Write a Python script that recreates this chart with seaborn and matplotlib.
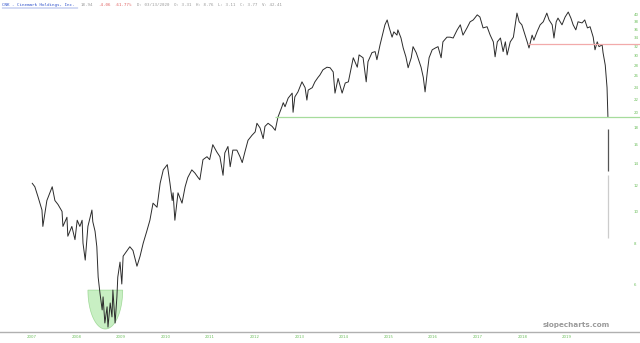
import numpy as np
import pandas as pd
import matplotlib
matplotlib.use("Agg")
import matplotlib.pyplot as plt
import seaborn as sns

# ---- data ----
years = [
    2007.01, 2007.07, 2007.14, 2007.23, 2007.25, 2007.34, 2007.46, 2007.52, 2007.59, 2007.68,
    2007.70, 2007.79, 2007.81, 2007.90, 2007.97, 2008.02, 2008.08, 2008.13, 2008.15, 2008.20,
    2008.26, 2008.35, 2008.37, 2008.42, 2008.46, 2008.49, 2008.53, 2008.58, 2008.60, 2008.64,
    2008.69, 2008.71, 2008.76, 2008.80, 2008.82, 2008.87, 2008.91, 2008.93, 2008.98, 2009.02,
    2009.05, 2009.14, 2009.20, 2009.27, 2009.36, 2009.43, 2009.50, 2009.58, 2009.65, 2009.72,
    2009.81, 2009.88, 2009.95, 2010.04, 2010.10, 2010.15, 2010.17, 2010.21,
    2010.28, 2010.37, 2010.44, 2010.50, 2010.59, 2010.66, 2010.73, 2010.77, 2010.84, 2010.93,
    2010.99, 2011.06, 2011.15, 2011.22, 2011.29, 2011.33, 2011.40, 2011.45, 2011.51, 2011.60,
    2011.67, 2011.72, 2011.78, 2011.85, 2011.94, 2012.01, 2012.05, 2012.12, 2012.19, 2012.23,
    2012.30, 2012.39, 2012.46, 2012.52, 2012.61, 2012.64, 2012.68, 2012.75, 2012.84, 2012.86,
    2012.90, 2012.97, 2013.06, 2013.13, 2013.17, 2013.20, 2013.29, 2013.35, 2013.42,
    2013.46, 2013.53, 2013.62, 2013.69, 2013.76, 2013.80, 2013.87, 2013.96, 2014.03, 2014.10,
    2014.14, 2014.21, 2014.30, 2014.34, 2014.43, 2014.50, 2014.54, 2014.63, 2014.70, 2014.74,
    2014.81, 2014.88, 2014.92, 2014.97, 2015.01, 2015.08, 2015.12, 2015.19, 2015.21, 2015.28,
    2015.33, 2015.39, 2015.44, 2015.51, 2015.55, 2015.62, 2015.66, 2015.73, 2015.78, 2015.82,
    2015.87, 2015.91, 2015.98, 2016.05, 2016.11, 2016.18, 2016.22, 2016.31,
    2016.38, 2016.45, 2016.54, 2016.61, 2016.67, 2016.76, 2016.83, 2016.90, 2016.99, 2017.05,
    2017.12, 2017.21, 2017.28, 2017.35, 2017.39, 2017.44, 2017.51, 2017.57, 2017.62, 2017.66,
    2017.73, 2017.80, 2017.84, 2017.88, 2017.93, 2017.99, 2018.04, 2018.11, 2018.15, 2018.22,
    2018.26, 2018.33, 2018.40, 2018.47, 2018.55, 2018.60, 2018.67, 2018.71, 2018.76, 2018.80,
    2018.89, 2018.96, 2019.03, 2019.09, 2019.14, 2019.20, 2019.25, 2019.34, 2019.40, 2019.46,
    2019.52, 2019.59, 2019.63, 2019.68, 2019.72, 2019.79, 2019.81, 2019.86, 2019.90, 2019.92,
]
prices = [
    12.2, 11.9, 11.1, 10.1, 9.0, 10.8, 11.9, 10.8, 10.5, 10.0,
    9.0, 9.6, 8.4, 9.0, 8.2, 9.4, 9.0, 9.4, 8.0, 7.1,
    9.0, 10.1, 9.3, 8.7, 7.8, 6.3, 5.63, 5.0, 5.48, 4.56,
    5.11, 4.43, 5.25, 4.76, 5.75, 4.56, 5.48, 6.3, 7.0, 6.0,
    7.3, 7.6, 7.8, 7.6, 6.8, 7.3, 8.0, 8.7, 9.4, 10.6,
    10.3, 12.2, 13.4, 13.9, 12.2, 10.8, 11.4, 9.4,
    11.4, 10.6, 11.9, 12.7, 13.4, 13.1, 12.7, 12.5, 14.4, 14.7,
    14.4, 16.0, 15.2, 14.7, 12.9, 15.1, 15.8, 13.7, 15.4, 15.4,
    14.7, 14.1, 15.2, 16.5, 17.1, 17.5, 18.6, 18.0, 16.7, 18.2,
    18.6, 18.2, 17.7, 19.4, 20.9, 21.5, 20.9, 22.2, 23.0, 20.1,
    22.4, 23.2, 24.9, 23.9, 21.9, 23.5, 23.9, 24.9, 25.7,
    26.1, 27.1, 27.6, 27.5, 26.7, 23.0, 25.5, 23.0, 24.7, 24.9,
    26.5, 29.5, 27.6, 30.1, 29.5, 24.9, 28.7, 30.6, 30.8, 29.1,
    32.3, 35.4, 37.2, 38.5, 36.7, 34.1, 35.4, 34.6, 35.9, 33.9,
    31.6, 29.7, 27.5, 29.5, 31.9, 30.6, 29.5, 27.6, 25.7, 23.2,
    26.7, 29.5, 31.2, 31.6, 31.9, 29.5, 33.0, 34.1,
    34.1, 33.9, 35.9, 37.2, 34.6, 36.4, 38.0, 38.5, 39.9, 39.3,
    36.4, 36.7, 34.6, 33.0, 29.7, 33.0, 33.9, 30.8, 33.0, 30.1,
    33.0, 34.1, 37.2, 40.4, 38.0, 37.2, 35.4, 33.0, 31.6, 34.6,
    33.4, 35.4, 37.2, 38.0, 40.4, 38.5, 37.2, 33.9, 38.0, 39.0,
    37.2, 39.3, 40.7, 39.0, 37.2, 35.9, 38.0, 37.7, 38.5, 36.4,
    36.7, 34.1, 31.2, 33.0, 31.9, 32.3, 30.6, 28.0, 23.9, 19.4,
]

year_ticks = list(range(2007, 2020))
price_ticks = [6, 8, 10, 12, 14, 16, 18, 20, 22, 24, 26, 28, 30, 32, 34, 36, 38, 40]

red_level = 32.5
red_start = 2018.13
green_level = 19.4
green_start = 2012.45

last_x = 2019.93
dark_bar = (17.9, 13.3)
light_bar = (12.9, 8.3)

bowl_center = 2008.65
bowl_halfwidth = 0.39
bowl_top = 5.75
bowl_bottom = 4.37

header_title = "CNK - Cinemark Holdings, Inc."
header_parts = [("18.94", "#999999"), ("-4.06", "#e06060"), ("-61.77%", "#e06060"),
                ("D: 03/13/2020", "#999999"), ("O: 3.31", "#999999"), ("H: 8.76", "#999999"),
                ("L: 3.11", "#999999"), ("C: 3.77", "#999999"), ("V: 42.41", "#999999")]

# ---- figure ----
sns.set_theme(style="white")
plt.rcParams['font.family'] = ['DejaVu Sans']
fig = plt.figure(figsize=(6.4, 3.43), dpi=100)
ax = fig.add_axes([0, 11 / 343, 1, 1 - 11 / 343])

df = pd.DataFrame({"year": years, "price": prices})
sns.lineplot(data=df, x="year", y="price", ax=ax, estimator=None, sort=False,
             color="#2b2b2b", linewidth=0.7)

ax.set_yscale("log")
ax.set_xlim(2006.289, 2020.639)
ax.set_ylim(4.28, 44.3)

# horizontal levels
ax.hlines(red_level, red_start, 2020.639, color="#f2aaaa", linewidth=0.9)
ax.hlines(green_level, green_start, 2020.639, color="#a6dc9c", linewidth=0.9)

# last bars
ax.vlines(last_x, dark_bar[1], dark_bar[0], color="#555555", linewidth=0.9)
ax.vlines(last_x, light_bar[1], light_bar[0], color="#cccccc", linewidth=0.9)

# bowl
t = np.linspace(0, np.pi, 80)
bx = bowl_center + bowl_halfwidth * np.cos(t)
ly = np.log10(bowl_top) - (np.log10(bowl_top) - np.log10(bowl_bottom)) * np.sin(t)
ax.fill(bx, 10 ** ly, facecolor="#9be392", alpha=0.55, edgecolor="#6cc060", linewidth=0.5, zorder=1)

# axes styling
for s in ["top", "left", "right"]:
    ax.spines[s].set_visible(False)
ax.spines["bottom"].set_color("#b0b0b0")
ax.spines["bottom"].set_linewidth(1.0)

ax.set_xticks(year_ticks)
ax.set_xticklabels([str(y) for y in year_ticks])
ax.yaxis.tick_right()
ax.set_yticks(price_ticks)
ax.set_yticklabels([str(p) for p in price_ticks])
ax.yaxis.set_minor_locator(matplotlib.ticker.NullLocator())
ax.tick_params(axis="x", length=0, pad=2.5, labelsize=2.8, labelcolor="#6cbf5c")
ax.tick_params(axis="y", length=0, pad=-4.5, labelsize=2.8, labelcolor="#6cbf5c")
ax.set_xlabel("")
ax.set_ylabel("")
ax.grid(False)

# header text
fig.text(2 / 640, 1 - 5 / 343, header_title, color="#3355cc", fontsize=3.1,
         va="center", ha="left", fontfamily="DejaVu Sans Mono")
fig.add_artist(plt.Line2D([2 / 640, 78 / 640], [1 - 7.5 / 343] * 2, color="#3355cc", linewidth=0.3))
xpos = 81
char_w = 2.55
for txt, col in header_parts:
    fig.text(xpos / 640, 1 - 5 / 343, txt, color=col, fontsize=3.0, va="center", ha="left",
             fontfamily="DejaVu Sans Mono")
    xpos += (len(txt) + 1.6) * char_w

# watermark
fig.text(610 / 640, 1 - 325 / 343, "slopecharts.com", color="#9a9a9a", fontsize=5.2,
         fontweight="bold", ha="right", va="center")

fig.savefig("out.png", dpi=100)
